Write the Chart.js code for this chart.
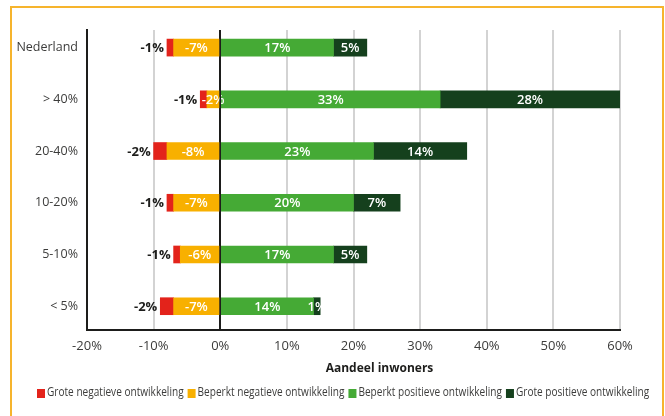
<!DOCTYPE html>
<html lang="nl">
<head>
<meta charset="utf-8">
<title>Ontwikkeling naar aandeel inwoners</title>
<script src="https://cdn.jsdelivr.net/npm/chart.js@4.4.1/dist/chart.umd.min.js"></script>
<style>
  html, body { margin: 0; padding: 0; background: #fff; }
  #wrap { position: relative; width: 665px; height: 416px; overflow: hidden; }
  #frame { position: absolute; left: 10px; top: 6px; width: 650px; height: 440px; border: 2px solid #f6b42d; }
  #chart { position: absolute; left: 0; top: 0; }
</style>
</head>
<body>
<div id="wrap">
  <div id="frame"></div>
  <canvas id="chart" width="665" height="416"></canvas>
</div>
<script>
const groups = ["Nederland", "> 40%", "20-40%", "10-20%", "5-10%", "< 5%"];
const seriesNames = [
  "Grote negatieve ontwikkeling",
  "Beperkt negatieve ontwikkeling",
  "Beperkt positieve ontwikkeling",
  "Grote positieve ontwikkeling"
];
const groteNegatief = [-1, -1, -2, -1, -1, -2];
const beperktNegatief = [-7, -2, -8, -7, -6, -7];
const beperktPositief = [17, 33, 23, 20, 17, 14];
const grotePositief = [5, 28, 14, 7, 5, 1];
const xMin = -20, xMax = 60, xStep = 10;
const axisTitle = "Aandeel inwoners";

const colors = ["#e3231b", "#f8b000", "#45aa35", "#15401d"];
const ink = "#1d1d1b";
const grey = "#3c3c3b";
const baseFont = "'Open Sans', 'Noto Sans', sans-serif";

// orange sits next to zero, red stacks outside it
const stackOrder = [1, 0, 2, 3];

const series = [groteNegatief, beperktNegatief, beperktPositief, grotePositief];
const datasets = series.map((values, i) => ({
  label: seriesNames[i],
  data: values.map((v, j) => ({ x: v, y: j })),
  backgroundColor: colors[i],
  borderWidth: 0,
  barThickness: 17,
  order: stackOrder[i]
}));

// value labels on the segments, zero line on top of the bars
const barLabels = {
  id: "barLabels",
  afterDatasetsDraw(chart) {
    const { ctx, chartArea, scales } = chart;
    ctx.save();
    ctx.textBaseline = "middle";
    chart.data.datasets.forEach((ds, i) => {
      chart.getDatasetMeta(i).data.forEach((bar, j) => {
        const { x, y, base } = bar.getProps(["x", "y", "base"], true);
        const text = ds.data[j].x + "%";
        if (i === 0) {
          ctx.fillStyle = ink;
          ctx.font = "700 13px " + baseFont;
          ctx.textAlign = "right";
          ctx.fillText(text, Math.min(x, base) - 3, y + 1);
        } else {
          const right = Math.min(Math.max(x, base), chartArea.right);
          const left = Math.min(x, base);
          ctx.fillStyle = "#fff";
          ctx.font = "600 13px " + baseFont;
          ctx.textAlign = "center";
          ctx.fillText(text, (left + right) / 2, y + 1);
        }
      });
    });

    const x0 = scales.x.getPixelForValue(0);
    ctx.strokeStyle = ink;
    ctx.lineWidth = 1.5;
    ctx.beginPath();
    ctx.moveTo(x0, chartArea.top);
    ctx.lineTo(x0, chartArea.bottom);
    ctx.stroke();
    ctx.restore();
  }
};

// axis title plus a narrow one-line legend under the x axis
const legendSquash = 0.84;
const footer = {
  id: "footer",
  afterDraw(chart) {
    const { ctx, chartArea, scales } = chart;
    ctx.save();
    ctx.textBaseline = "middle";

    ctx.fillStyle = ink;
    ctx.font = "700 12px " + baseFont;
    ctx.textAlign = "center";
    const cx = (chartArea.left + chartArea.right) / 2 + 26;
    ctx.fillText(axisTitle, cx, scales.x.top + 39);

    ctx.font = "12px " + baseFont;
    ctx.textAlign = "left";
    const y = scales.x.bottom + 12;
    let x = 37;
    seriesNames.forEach((name, i) => {
      ctx.fillStyle = colors[i];
      ctx.fillRect(x, y - 4, 8, 9);
      x += 10;
      ctx.save();
      ctx.translate(x, y);
      ctx.scale(legendSquash, 1);
      ctx.fillStyle = grey;
      ctx.fillText(name, 0, 0);
      ctx.restore();
      x += ctx.measureText(name).width * legendSquash + 4;
    });
    ctx.restore();
  }
};

new Chart(document.getElementById("chart"), {
  type: "bar",
  data: { datasets },
  options: {
    indexAxis: "y",
    responsive: false,
    animation: false,
    layout: { padding: { top: 30, left: 10, right: 0, bottom: 35 } },
    scales: {
      x: {
        type: "linear",
        min: xMin,
        max: xMax,
        stacked: true,
        grid: {
          color: c => (c.tick && c.tick.value === 0 ? ink : "#d3d3d3"),
          lineWidth: 2,
          drawTicks: false
        },
        border: { color: ink, width: 2 },
        ticks: {
          stepSize: xStep,
          padding: 8,
          color: grey,
          font: { family: baseFont, size: 13 },
          callback: v => v + "%"
        },
        afterFit: s => {
          s.paddingRight = 45;
          s.height = 51;
        }
      },
      y: {
        type: "linear",
        bounds: "data",
        offset: false,
        reverse: true,
        min: -0.34,
        max: 5.46,
        stacked: true,
        grid: { display: false, drawTicks: false },
        border: { color: ink, width: 2 },
        afterBuildTicks: s => {
          s.ticks = groups.map((_, i) => ({ value: i }));
        },
        afterFit: s => {
          s.width = 77;
        },
        ticks: {
          padding: 9,
          color: grey,
          font: { family: baseFont, size: 12.5 },
          callback: v => groups[v]
        }
      }
    },
    plugins: {
      tooltip: { enabled: false },
      legend: { display: false }
    }
  },
  plugins: [barLabels, footer]
});
</script>
</body>
</html>
